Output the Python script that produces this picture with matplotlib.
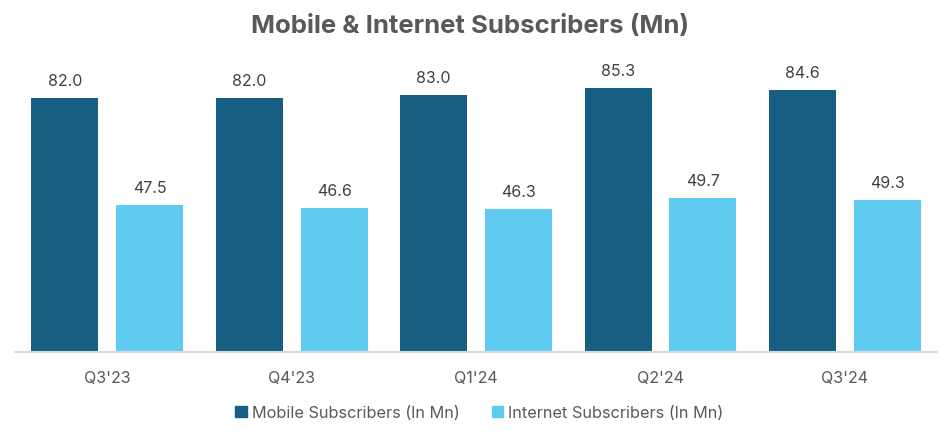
import numpy as np
import matplotlib.pyplot as plt
from matplotlib.patches import Patch

# data
quarters = ["Q3'23", "Q4'23", "Q1'24", "Q2'24", "Q3'24"]
mobile = [82.0, 82.0, 83.0, 85.3, 84.6]
internet = [47.5, 46.6, 46.3, 49.7, 49.3]

c_mobile = "#175E83"
c_internet = "#5FCBF1"
grey = "#595959"

plt.rcParams["font.family"] = ["Inter", "DejaVu Sans"]

fig = plt.figure(figsize=(9.4, 4.39), dpi=100)
ax = fig.add_axes([0.016, 0.195, 0.981, 0.706])

x = np.arange(len(quarters))
w = 0.363
off = 0.23
b1 = ax.bar(x - off, mobile, w, color=c_mobile)
b2 = ax.bar(x + off, internet, w, color=c_internet)

for bars, vals in ((b1, mobile), (b2, internet)):
    for r, v in zip(bars, vals):
        ax.text(r.get_x() + r.get_width() / 2, v + 3.2, f"{v:.1f}",
                ha="center", va="bottom", fontsize=11.5, color="#404040")

ax.set_xlim(-0.5, len(quarters) - 0.5)
ax.set_ylim(0, 100)
ax.set_yticks([])
ax.set_xticks(x)
ax.set_xticklabels(quarters, fontsize=11.5, color=grey)
ax.tick_params(axis="x", length=0, pad=13)
for s in ("top", "right", "left"):
    ax.spines[s].set_visible(False)
ax.spines["bottom"].set_color("#D9D9D9")
ax.spines["bottom"].set_linewidth(1.5)

fig.suptitle("Mobile & Internet Subscribers (Mn)", fontsize=18.5, fontweight="bold",
             color=grey, y=0.965)

handles = [Patch(color=c_mobile), Patch(color=c_internet)]
fig.legend(handles, ["Mobile Subscribers (In Mn)", "Internet Subscribers (In Mn)"],
           loc="center", bbox_to_anchor=(0.51, 0.058), ncol=2, frameon=False,
           fontsize=11.7, labelcolor=grey, handlelength=0.7, handleheight=0.7,
           handletextpad=0.3, columnspacing=2.0)

fig.savefig("out.png", dpi=100)
